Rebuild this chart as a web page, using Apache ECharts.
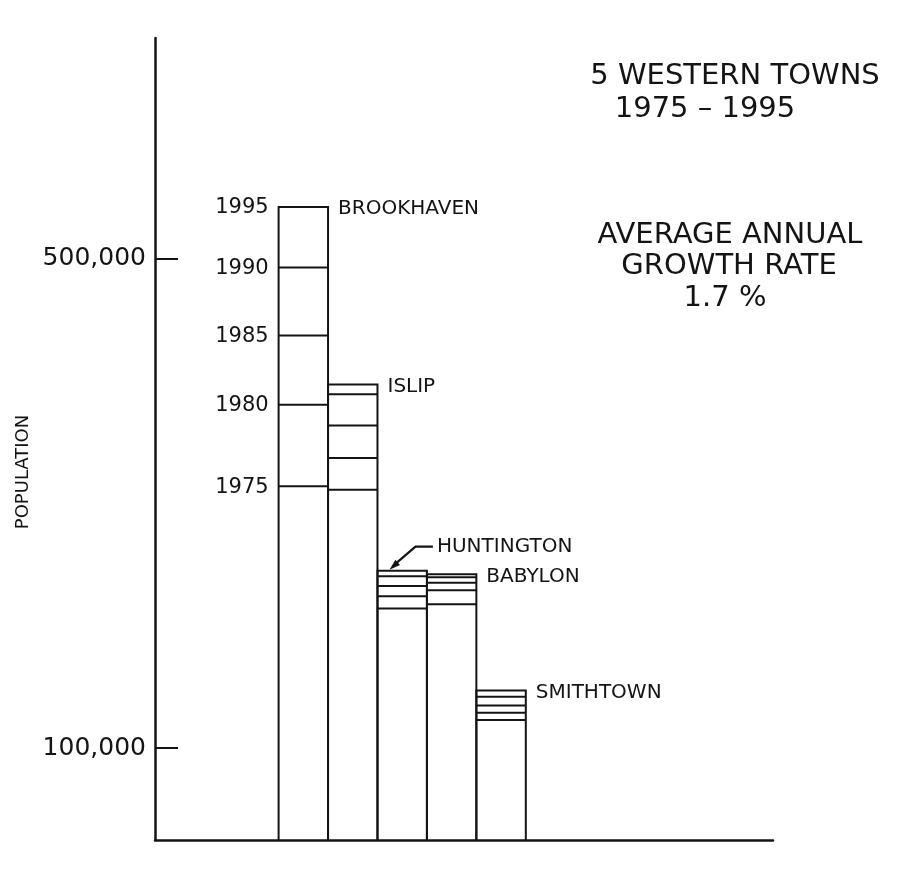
<!DOCTYPE html>
<html><head><meta charset="utf-8">
<script src="https://cdn.jsdelivr.net/npm/echarts@6/dist/echarts.min.js"></script>
<style>html,body{margin:0;padding:0;background:#fff}#c{width:903px;height:873px}</style>
</head><body><div id="c"></div>
<script>
// ---- data ----
const towns = ['BROOKHAVEN', 'ISLIP', 'HUNTINGTON', 'BABYLON', 'SMITHTOWN'];
const years = ['1975', '1980', '1985', '1990', '1995'];
const brookhaven = [314000, 380500, 437000, 492500, 542000];
const islip      = [311000, 337000, 363500, 389000, 397000];
const huntington = [214000, 224000, 232500, 240500, 245000];
const babylon    = [217500, 229000, 235000, 239500, 242000];
const smithtown  = [123000, 129000, 134800, 142000, 147000];
const yTickValues = [100000, 500000];
const yTickLabels = ['100,000', '500,000'];
const titleLines = ['5 WESTERN TOWNS', '1975 – 1995'];
const noteLines = ['AVERAGE ANNUAL', 'GROWTH RATE', '1.7 %'];
const yName = 'POPULATION';

const Y_MIN = 25000, Y_MAX = 680000;
const townValues = [brookhaven, islip, huntington, babylon, smithtown];
const seriesData = townValues.map((v, i) => [i].concat(v));

const INK = '#141414';
const FONT = '"DejaVu Sans", sans-serif';

function renderItem(params, api) {
  const i = api.value(0);
  const base = api.coord([i - 0.5, Y_MIN]);
  const endR = api.coord([i + 0.5, Y_MIN]);
  const x0 = base[0], x1 = endR[0], yb = base[1];
  const ys = [1, 2, 3, 4, 5].map(k => api.coord([i, api.value(k)])[1]);
  const top = ys[4];
  const ch = [];
  ch.push({ type: 'polyline', shape: { points: [[x0, yb], [x0, top], [x1, top], [x1, yb]] },
    style: { stroke: INK, fill: null, lineWidth: 2 } });
  for (let k = 0; k < 4; k++) {
    ch.push({ type: 'line', shape: { x1: x0, y1: ys[k], x2: x1, y2: ys[k] },
      style: { stroke: INK, lineWidth: 2 } });
  }
  if (i === 0) {
    for (let k = 0; k < 5; k++) {
      ch.push({ type: 'text', style: { text: years[k], x: x0 - 10, y: ys[k] + 1, align: 'right',
        verticalAlign: 'middle', font: '21px ' + FONT, fill: INK } });
    }
  }
  if (i === 2) {
    const lx = x1 + 10, ly = top - 24;
    const tip = [x0 + 12, top - 1];
    const bend = [x0 + 38, ly];
    ch.push({ type: 'polyline', shape: { points: [[lx - 4, ly], bend, [tip[0] + 5, tip[1] - 5]] },
      style: { stroke: INK, fill: null, lineWidth: 2.2 } });
    const dx = tip[0] - bend[0], dy = tip[1] - bend[1];
    const len = Math.sqrt(dx * dx + dy * dy);
    const ux = dx / len, uy = dy / len;
    const bx = tip[0] - ux * 11, by = tip[1] - uy * 11;
    ch.push({ type: 'polygon', shape: { points: [tip, [bx - uy * 3.5, by + ux * 3.5], [bx + uy * 3.5, by - ux * 3.5]] },
      style: { fill: INK } });
    ch.push({ type: 'text', style: { text: towns[i], x: lx, y: ly, align: 'left', verticalAlign: 'middle',
      font: '20px ' + FONT, fill: INK } });
  } else {
    ch.push({ type: 'text', style: { text: towns[i], x: x1 + 10, y: top + 2, align: 'left', verticalAlign: 'middle',
      font: '20px ' + FONT, fill: INK } });
  }
  return { type: 'group', children: ch };
}

const chart = echarts.init(document.getElementById('c'), null, { renderer: 'canvas' });
chart.setOption({
  backgroundColor: '#ffffff',
  animation: false,
  grid: { left: 155, right: 130, top: 38, bottom: 33 },
  xAxis: {
    type: 'value', min: -3, max: 9.5,
    axisLine: { show: true, onZero: false, lineStyle: { color: INK, width: 2.5 } },
    axisTick: { show: false }, axisLabel: { show: false }, splitLine: { show: false }
  },
  yAxis: {
    type: 'value', min: Y_MIN, max: Y_MAX,
    axisLine: { show: true, onZero: false, lineStyle: { color: INK, width: 2.5 } },
    splitLine: { show: false },
    axisTick: { show: true, inside: true, length: 23, customValues: yTickValues, lineStyle: { color: INK, width: 2 } },
    axisLabel: { show: true, customValues: yTickValues, margin: 9, color: INK, fontFamily: 'DejaVu Sans', fontSize: 25,
      formatter: v => yTickLabels[yTickValues.indexOf(v)] }
  },
  graphic: [
    { type: 'text', x: 23, y: 472, rotation: Math.PI / 2,
      style: { text: yName, font: '18px ' + FONT, fill: INK, align: 'center', verticalAlign: 'middle' } },
    { type: 'text', x: 735, y: 76, style: { text: titleLines[0], font: '29px ' + FONT, fill: INK, align: 'center', verticalAlign: 'middle' } },
    { type: 'text', x: 705, y: 109, style: { text: titleLines[1], font: '29px ' + FONT, fill: INK, align: 'center', verticalAlign: 'middle' } },
    { type: 'text', x: 730, y: 235, style: { text: noteLines[0], font: '29px ' + FONT, fill: INK, align: 'center', verticalAlign: 'middle' } },
    { type: 'text', x: 729, y: 266, style: { text: noteLines[1], font: '29px ' + FONT, fill: INK, align: 'center', verticalAlign: 'middle' } },
    { type: 'text', x: 725, y: 298, style: { text: noteLines[2], font: '29px ' + FONT, fill: INK, align: 'center', verticalAlign: 'middle' } }
  ],
  series: [{
    type: 'custom', clip: false,
    encode: { x: 0, y: [1, 2, 3, 4, 5] },
    data: seriesData,
    renderItem: renderItem
  }]
});
</script>
</body></html>
